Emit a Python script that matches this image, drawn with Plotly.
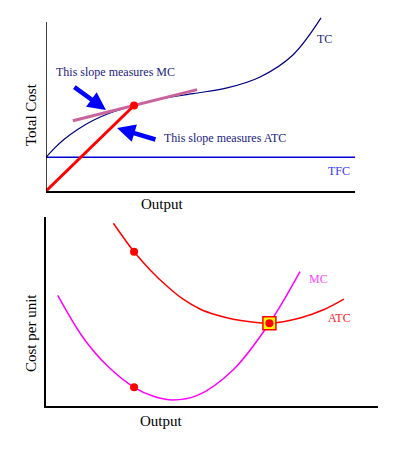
import plotly.graph_objects as go

# ---------------- data ----------------
# Top panel: total cost
tc_q = [0, 0.26, 0.58, 1.01, 1.55, 2.09, 2.52, 2.85, 3.69, 4.76, 5.86, 6.93, 7.99, 8.90]
tc_cost = [1.99, 2.51, 3.05, 3.63, 4.20, 4.63, 4.89, 5.06, 5.44, 5.76, 6.10, 6.75, 8.05, 10.24]
tfc_q = [0, 10]
tfc_cost = [2.0, 2.0]
tangent_q = [0.87, 4.89]
tangent_cost = [4.16, 6.00]
ray_q = [0, 2.85]
ray_cost = [0, 5.06]
point_q = [2.85]
point_tc = [5.06]

# Bottom panel: per-unit costs
atc_q = [2.18, 2.85, 3.37, 3.91, 4.44, 4.98, 5.52, 6.06, 6.60, 7.23, 8.22, 8.96, 9.64]
atc_cost = [9.67, 8.16, 7.20, 6.35, 5.65, 5.13, 4.81, 4.59, 4.46, 4.38, 4.66, 5.08, 5.66]
mc_q = [0.38, 1.21, 2.0, 2.85, 3.5, 4.1, 4.9, 6.06, 7.23, 8.22]
mc_cost = [5.85, 3.60, 2.10, 0.99, 0.50, 0.32, 0.56, 1.92, 4.38, 7.11]
pts_q = [2.85, 2.85]
pts_cost = [8.16, 0.99]
min_q = [7.23]
min_cost = [4.38]

W, H = 398, 453
SERIF = "Liberation Serif"


def px_x(p):
    return p / W


def px_y(p):
    return 1 - p / H


fig = go.Figure()

# top panel traces
fig.add_trace(go.Scatter(x=tfc_q, y=tfc_cost, mode="lines",
                         line=dict(color="#0000d0", width=1.5), xaxis="x", yaxis="y"))
fig.add_trace(go.Scatter(x=tc_q, y=tc_cost, mode="lines",
                         line=dict(color="#00007f", width=1.2, shape="spline", smoothing=1.0),
                         xaxis="x", yaxis="y"))
fig.add_trace(go.Scatter(x=tangent_q, y=tangent_cost, mode="lines",
                         line=dict(color="#c8649b", width=3), xaxis="x", yaxis="y"))
fig.add_trace(go.Scatter(x=ray_q, y=ray_cost, mode="lines",
                         line=dict(color="#ff0000", width=3), xaxis="x", yaxis="y"))
fig.add_trace(go.Scatter(x=point_q, y=point_tc, mode="markers",
                         marker=dict(color="#ff0000", size=8), xaxis="x", yaxis="y"))

# bottom panel traces
fig.add_trace(go.Scatter(x=atc_q, y=atc_cost, mode="lines",
                         line=dict(color="#ff0000", width=1.5, shape="spline", smoothing=1.0),
                         xaxis="x2", yaxis="y2"))
fig.add_trace(go.Scatter(x=mc_q, y=mc_cost, mode="lines",
                         line=dict(color="#ff00ff", width=1.5, shape="spline", smoothing=1.0),
                         xaxis="x2", yaxis="y2"))
fig.add_trace(go.Scatter(x=min_q, y=min_cost, mode="markers",
                         marker=dict(symbol="square", color="#ffff00", size=13,
                                     line=dict(color="#ff0000", width=1.5)),
                         xaxis="x2", yaxis="y2"))
fig.add_trace(go.Scatter(x=pts_q + min_q, y=pts_cost + min_cost, mode="markers",
                         marker=dict(color="#ff0000", size=8), xaxis="x2", yaxis="y2"))

top_scale = 16.9  # px per unit (top y)
x_scale = 30.9    # px per unit (x)

layout_axis = dict(showgrid=False, zeroline=False, showticklabels=False, ticks="")

fig.update_layout(
    width=W, height=H,
    margin=dict(l=0, r=0, t=0, b=0),
    paper_bgcolor="white", plot_bgcolor="white",
    showlegend=False,
    hovermode=False,
    xaxis=dict(domain=[px_x(46), px_x(355)], range=[0, 309 / x_scale], anchor="y",
               showline=True, linecolor="black", linewidth=1.5, **layout_axis),
    yaxis=dict(domain=[px_y(191), px_y(16)], range=[0, 175 / top_scale], anchor="x",
               showline=False, **layout_axis),
    xaxis2=dict(domain=[px_x(46), px_x(378)], range=[0, 332 / x_scale], anchor="y2",
                showline=True, linecolor="black", linewidth=1.5, **layout_axis),
    yaxis2=dict(domain=[px_y(406), px_y(217)], range=[0, 10], anchor="x2",
                showline=True, linecolor="black", linewidth=1.5, **layout_axis),
    shapes=[dict(type="line", xref="x", yref="y", x0=0, x1=0, y0=0, y1=169 / top_scale,
                 line=dict(color="black", width=1.5))],
)

ann = []
# arrows
ann.append(dict(x=1.94, y=4.79, ax=0.87, ay=6.21, xref="x", yref="y", axref="x", ayref="y",
                showarrow=True, arrowhead=2, arrowsize=0.8, arrowwidth=4.5, arrowcolor="#0000ff",
                text=""))
ann.append(dict(x=2.30, y=3.73, ax=3.59, ay=3.02, xref="x", yref="y", axref="x", ayref="y",
                showarrow=True, arrowhead=2, arrowsize=0.8, arrowwidth=4.5, arrowcolor="#0000ff",
                text=""))


def lab(text, x, y, color, xref="x", yref="y", size=12, xanchor="center", angle=0):
    ann.append(dict(text=text, x=x, y=y, xref=xref, yref=yref, showarrow=False,
                    xanchor=xanchor, yanchor="middle", textangle=angle,
                    font=dict(family=SERIF, size=size, color=color)))


lab("This slope measures MC", 0.26, 7.04, "#1a1a80", xanchor="left")
lab("This slope measures ATC", 3.75, 3.14, "#1a1a80", xanchor="left")
lab("TC", 9.0, 8.99, "#1a1a80")
lab("TFC", 9.48, 1.18, "#3333ff")
lab("MC", 8.83, 6.72, "#ff44ff", xref="x2", yref="y2")
lab("ATC", 9.51, 4.66, "#ff2020", xref="x2", yref="y2")

lab("Total Cost", px_x(31), px_y(115), "black", xref="paper", yref="paper", size=15, angle=-90)
lab("Output", px_x(162), px_y(204), "black", xref="paper", yref="paper", size=15)
lab("Cost per unit", px_x(31), px_y(333), "black", xref="paper", yref="paper", size=15, angle=-90)
lab("Output", px_x(161), px_y(421), "black", xref="paper", yref="paper", size=15)

fig.update_layout(annotations=ann)

fig.write_html("out.html", config={"displayModeBar": False},
               post_script="document.body.style.margin='0';document.body.style.padding='0';")
